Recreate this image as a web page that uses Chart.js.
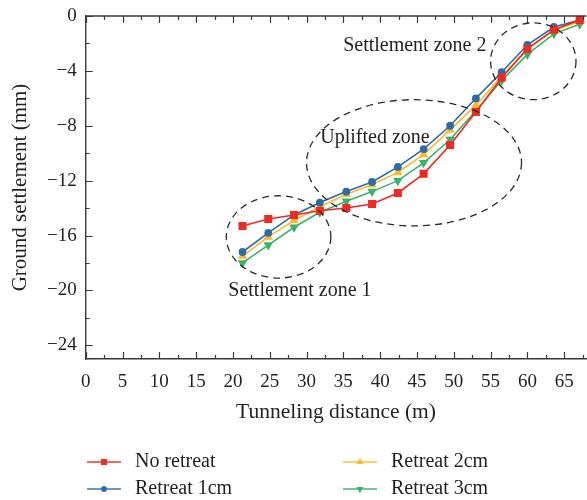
<!DOCTYPE html>
<html>
<head>
<meta charset="utf-8">
<script src="https://cdn.jsdelivr.net/npm/chart.js@4.4.1/dist/chart.umd.min.js"></script>
<style>
  html, body { margin: 0; padding: 0; background: #fff; overflow: hidden; }
  #wrap { width: 592px; height: 500px; }
</style>
</head>
<body>
<div id="wrap"><canvas id="chart" width="592" height="500"></canvas></div>
<script>
// tunneling distance (m) and ground settlement (mm)
const distance = [21.3, 24.8, 28.3, 31.8, 35.4, 38.9, 42.4, 45.9, 49.5, 53.0, 56.5, 60.0, 63.6, 67.1];
const noRetreat = [-15.3, -14.8, -14.5, -14.2, -14.0, -13.7, -12.9, -11.5, -9.4, -7.0, -4.5, -2.4, -1.0, -0.3];
const retreat1cm = [-17.2, -15.8, -14.5, -13.6, -12.8, -12.1, -11.0, -9.7, -8.0, -6.0, -4.1, -2.1, -0.8, -0.3];
const retreat2cm = [-17.5, -16.1, -14.9, -13.9, -13.0, -12.3, -11.4, -10.1, -8.3, -6.5, -4.4, -2.4, -1.05, -0.4];
const retreat3cm = [-18.0, -16.7, -15.4, -14.3, -13.5, -12.8, -12.0, -10.7, -9.0, -6.9, -4.7, -2.8, -1.3, -0.6];

const seriesNames = ['No retreat', 'Retreat 1cm', 'Retreat 2cm', 'Retreat 3cm'];
const xTicks = [0, 5, 10, 15, 20, 25, 30, 35, 40, 45, 50, 55, 60, 65];
const yTicks = [0, -4, -8, -12, -16, -20, -24];

// dashed zones (data units)
const zones = [
  { label: 'Settlement zone 1', cx: 26.2, cy: -16.1, rx: 7.1, ry: 3.0, tx: 29.1, ty: -20.0 },
  { label: 'Uplifted zone', cx: 44.6, cy: -10.7, rx: 14.6, ry: 4.6, tx: 39.3, ty: -8.9 },
  { label: 'Settlement zone 2', cx: 60.8, cy: -3.3, rx: 5.8, ry: 2.8, tx: 44.7, ty: -2.2 }
];

const textColor = '#231f20';
const serif = '"Liberation Serif", "DejaVu Serif", serif';

const pts = (ys) => distance.map((x, i) => ({ x: x, y: ys[i] }));

const datasets = [
  { label: seriesNames[0], data: pts(noRetreat), borderColor: '#ee2a24', backgroundColor: '#ee2a24',
    pointStyle: 'rect', pointRadius: 5.7, pointRotation: 0 },
  { label: seriesNames[1], data: pts(retreat1cm), borderColor: '#2e6ca5', backgroundColor: '#2e6ca5',
    pointStyle: 'circle', pointRadius: 3.9, pointRotation: 0 },
  { label: seriesNames[2], data: pts(retreat2cm), borderColor: '#fdb92a', backgroundColor: '#fdb92a',
    pointStyle: 'triangle', pointRadius: 5.5, pointRotation: 0 },
  { label: seriesNames[3], data: pts(retreat3cm), borderColor: '#3bb26b', backgroundColor: '#3bb26b',
    pointStyle: 'triangle', pointRadius: 5.5, pointRotation: 180 }
];
datasets.forEach(d => {
  d.borderWidth = 1.6;
  d.pointBorderWidth = 0;
  d.pointHoverRadius = d.pointRadius;
  d.tension = 0;
  d.fill = false;
});

const extras = {
  id: 'extras',
  afterDraw(chart) {
    const ctx = chart.ctx;
    const xs = chart.scales.x, ys = chart.scales.y;
    const ca = chart.chartArea;
    ctx.save();

    // top frame and inward tick marks
    ctx.strokeStyle = '#3a3a3a';
    ctx.lineWidth = 1.4;
    ctx.beginPath();
    ctx.moveTo(ca.left, ca.top);
    ctx.lineTo(ca.right, ca.top);
    ctx.stroke();

    ctx.lineWidth = 1.2;
    ctx.beginPath();
    for (let v = 0; v <= xs.max; v += 2.5) {
      const px = Math.round(xs.getPixelForValue(v)) + 0.5;
      const len = xTicks.includes(v) ? 7 : 4;
      ctx.moveTo(px, ca.bottom); ctx.lineTo(px, ca.bottom - len);
      ctx.moveTo(px, ca.top); ctx.lineTo(px, ca.top + len);
    }
    for (let v = 0; v >= ys.min; v -= 2) {
      const py = Math.round(ys.getPixelForValue(v)) + 0.5;
      const len = yTicks.includes(v) ? 7 : 4;
      ctx.moveTo(ca.left, py); ctx.lineTo(ca.left + len, py);
    }
    ctx.stroke();

    // dashed ellipses and their labels
    ctx.strokeStyle = '#2b2b2b';
    ctx.lineWidth = 1.3;
    ctx.setLineDash([7, 5]);
    zones.forEach(z => {
      const cx = xs.getPixelForValue(z.cx), cy = ys.getPixelForValue(z.cy);
      const rx = xs.getPixelForValue(z.cx + z.rx) - cx;
      const ry = ys.getPixelForValue(z.cy - z.ry) - cy;
      ctx.beginPath();
      ctx.ellipse(cx, cy, rx, ry, 0, 0, Math.PI * 2);
      ctx.stroke();
    });
    ctx.setLineDash([]);
    ctx.fillStyle = textColor;
    ctx.font = '20px ' + serif;
    ctx.textAlign = 'center';
    ctx.textBaseline = 'middle';
    zones.forEach(z => {
      ctx.fillText(z.label, xs.getPixelForValue(z.tx), ys.getPixelForValue(z.ty));
    });

    // legend, two columns
    const colX = [87, 343];
    const rowY = [462, 489];
    ctx.font = '20px ' + serif;
    ctx.textAlign = 'left';
    chart.data.datasets.forEach((d, i) => {
      const x0 = colX[Math.floor(i / 2)], y0 = rowY[i % 2];
      ctx.globalAlpha = 0.7;
      ctx.strokeStyle = d.borderColor;
      ctx.lineWidth = 2;
      ctx.beginPath();
      ctx.moveTo(x0, y0); ctx.lineTo(x0 + 34, y0);
      ctx.stroke();
      ctx.globalAlpha = 1;
      ctx.fillStyle = d.backgroundColor;
      Chart.helpers.drawPoint(ctx, {
        pointStyle: d.pointStyle, radius: d.pointRadius * 0.75,
        rotation: d.pointRotation, borderWidth: 0
      }, x0 + 17, y0);
      ctx.fillStyle = textColor;
      ctx.fillText(d.label, x0 + 48, y0);
    });
    ctx.restore();
  }
};

const minus = (v) => v < 0 ? '\u2212' + Math.abs(v) : String(v);

new Chart(document.getElementById('chart'), {
  type: 'line',
  data: { datasets: datasets },
  options: {
    responsive: false,
    animation: false,
    events: [],
    layout: { padding: { top: 16, right: 1, left: 0, bottom: 0 } },
    plugins: { legend: { display: false }, tooltip: { enabled: false } },
    scales: {
      x: {
        type: 'linear',
        min: 0,
        max: 68,
        afterBuildTicks: (s) => { s.ticks = xTicks.map(v => ({ value: v })); },
        afterFit: (s) => { s.height = 141; s.paddingLeft = 0; s.paddingRight = 0; },
        grid: { display: false, drawTicks: false },
        border: { display: true, color: '#3a3a3a', width: 1.4 },
        ticks: { padding: 12, color: textColor, font: { family: serif, size: 19 }, maxRotation: 0 },
        title: { display: true, text: 'Tunneling distance (m)', color: textColor,
                 font: { family: serif, size: 21.5 }, padding: { top: 0, bottom: 75 } }
      },
      y: {
        type: 'linear',
        min: -25,
        max: 0,
        afterBuildTicks: (s) => { s.ticks = yTicks.map(v => ({ value: v })); },
        afterFit: (s) => { s.width = 85.7; s.paddingTop = 0; s.paddingBottom = 0; },
        grid: { display: false, drawTicks: false },
        border: { display: true, color: '#3a3a3a', width: 1.4 },
        ticks: { padding: 9, color: textColor, font: { family: serif, size: 19 }, callback: minus },
        title: { display: true, text: 'Ground settlement (mm)', color: textColor,
                 font: { family: serif, size: 21 }, padding: { top: 8, bottom: 0 } }
      }
    }
  },
  plugins: [extras]
});
</script>
</body>
</html>
